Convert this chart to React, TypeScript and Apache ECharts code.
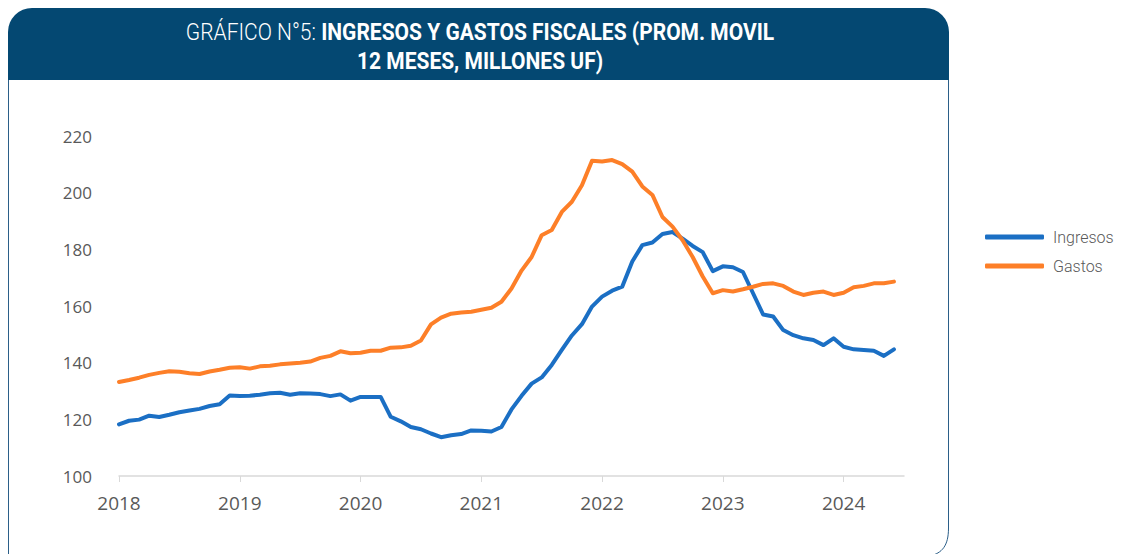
import React, { useEffect, useRef } from "react";
import * as echarts from "echarts";

const years = ["2018", "2019", "2020", "2021", "2022", "2023", "2024"];
const monthCount = 79; // Jan 2018 .. Jul 2024 (axis end)

const ingresos = [
  118.2, 119.5, 119.9, 121.3, 120.8, 121.6, 122.5, 123.1, 123.7, 124.7, 125.3, 128.4,
  128.2, 128.3, 128.7, 129.2, 129.4, 128.7, 129.2, 129.1, 128.9, 128.2, 128.8, 126.6,
  127.9, 127.9, 127.9, 120.9, 119.3, 117.3, 116.5, 115.0, 113.7, 114.4, 114.8, 116.1,
  116.0, 115.7, 117.3, 123.5, 128.3, 132.6, 134.8, 139.2, 144.5, 149.6, 153.6, 159.8,
  163.3, 165.4, 166.8, 175.7, 181.5, 182.4, 185.4, 186.1, 183.8, 181.2, 179.0, 172.3,
  174.0, 173.7, 172.0, 164.5, 157.0, 156.3, 151.5, 149.7, 148.6, 148.0, 146.2, 148.6,
  145.6, 144.7, 144.5, 144.2, 142.4, 144.7,
];

const gastos = [
  133.2, 133.9, 134.7, 135.7, 136.4, 137.0, 136.8, 136.3, 136.0, 136.9, 137.5, 138.2,
  138.4, 137.9, 138.7, 138.9, 139.4, 139.7, 140.0, 140.4, 141.7, 142.4, 144.0, 143.3,
  143.5, 144.2, 144.2, 145.3, 145.4, 146.0, 147.8, 153.5, 155.9, 157.3, 157.7, 158.0,
  158.7, 159.4, 161.5, 166.2, 172.5, 177.3, 185.0, 186.8, 193.2, 196.8, 202.6, 211.3,
  211.0, 211.5, 210.1, 207.4, 202.2, 199.2, 191.4, 188.0, 183.2, 177.3, 170.4, 164.5,
  165.6, 165.1, 165.9, 166.8, 167.8, 168.0, 167.1, 165.1, 163.9, 164.7, 165.1, 163.9,
  164.7, 166.6, 167.1, 168.0, 168.0, 168.6,
];

const seriesNames = ["Ingresos", "Gastos"];
const titleLight = "GRÁFICO N°5: ";
const titleBoldLine1 = "INGRESOS Y GASTOS FISCALES (PROM. MOVIL";
const titleBoldLine2 = "12 MESES, MILLONES UF)";
const yMin = 100;
const yMax = 220;
const yStep = 20;

const categories: string[] = [];
years.forEach((y) => {
  for (let m = 1; m <= 12; m++) categories.push(`${y}-${String(m).padStart(2, "0")}`);
});
const months = categories.slice(0, monthCount);

export default function App() {
  const ref = useRef<HTMLDivElement>(null);
  useEffect(() => {
    if (!ref.current) return;
    const chart = echarts.init(ref.current, undefined, { renderer: "svg" });
    const axisColor = "#595959";
    chart.setOption({
      animation: false,
      backgroundColor: "#ffffff",
      grid: { left: 119, top: 136, width: 785, height: 340, containLabel: false },
      xAxis: {
        type: "category",
        data: months,
        boundaryGap: false,
        axisLine: { lineStyle: { color: "#D9D9D9", width: 1.5 } },
        axisTick: {
          show: true,
          interval: (i: number) => i % 12 === 0,
          length: 6,
          lineStyle: { color: "#D9D9D9", width: 1 },
        },
        axisLabel: {
          interval: (i: number) => i % 12 === 0,
          formatter: (v: string) => v.slice(0, 4),
          color: axisColor,
          fontSize: 19,
          fontFamily: "Open Sans",
          margin: 17,
        },
        splitLine: { show: false },
      },
      yAxis: {
        type: "value",
        min: yMin,
        max: yMax,
        interval: yStep,
        axisLine: { show: false },
        axisTick: { show: false },
        splitLine: { show: false },
        axisLabel: { color: axisColor, fontSize: 17, fontFamily: "Open Sans", margin: 27 },
      },
      legend: {
        orient: "vertical",
        left: 980,
        top: 224,
        itemWidth: 59,
        itemHeight: 5,
        itemGap: 13,
        icon: "roundRect",
        data: seriesNames,
        textStyle: {
          color: axisColor,
          fontSize: 16,
          fontFamily: "Roboto",
          fontWeight: 300,
          padding: [0, 0, 0, 4],
        },
      },
      series: [
        {
          name: seriesNames[0],
          type: "line",
          data: ingresos,
          showSymbol: false,
          color: "#1B6FC4",
          lineStyle: { width: 4, color: "#1B6FC4", cap: "round", join: "round" },
        },
        {
          name: seriesNames[1],
          type: "line",
          data: gastos,
          showSymbol: false,
          color: "#FD7F28",
          lineStyle: { width: 4, color: "#FD7F28", cap: "round", join: "round" },
        },
      ],
      graphic: [
        {
          type: "rect",
          shape: { x: 8, y: 8, width: 941, height: 72, r: [24, 24, 0, 0] },
          style: { fill: "#044872" },
          z: 10,
        },
        {
          type: "line",
          shape: { x1: 8.5, y1: 80, x2: 8.5, y2: 554 },
          style: { stroke: "#2B5E88", lineWidth: 1 },
        },
        {
          type: "line",
          shape: { x1: 948.5, y1: 80, x2: 948.5, y2: 528 },
          style: { stroke: "#2B5E88", lineWidth: 1 },
        },
        {
          type: "bezierCurve",
          shape: { x1: 948.5, y1: 528, cpx1: 948.5, cpy1: 546, cpx2: 942, cpy2: 553, x2: 930, y2: 556 },
          style: { stroke: "#2B5E88", lineWidth: 1, fill: "none" },
        },
        {
          type: "text",
          x: 480,
          y: 32,
          scaleX: 0.913,
          z: 11,
          style: {
            text: `{l|${titleLight}}{b|${titleBoldLine1}}`,
            align: "center",
            verticalAlign: "middle",
            fill: "#ffffff",
            rich: {
              l: { fontFamily: "Roboto", fontWeight: 300, fontSize: 23, fill: "#ffffff" },
              b: { fontFamily: "Roboto", fontWeight: "bold", fontSize: 23, fill: "#ffffff" },
            },
          },
        },
        {
          type: "text",
          x: 480,
          y: 61,
          scaleX: 0.913,
          z: 11,
          style: {
            text: titleBoldLine2,
            align: "center",
            verticalAlign: "middle",
            fill: "#ffffff",
            fontFamily: "Roboto",
            fontWeight: "bold",
            fontSize: 23,
          },
        },
      ],
    });
    return () => chart.dispose();
  }, []);
  return (
    <div
      ref={ref}
      style={{ position: "fixed", left: 0, top: 0, width: 1126, height: 554, background: "#fff" }}
    />
  );
}
